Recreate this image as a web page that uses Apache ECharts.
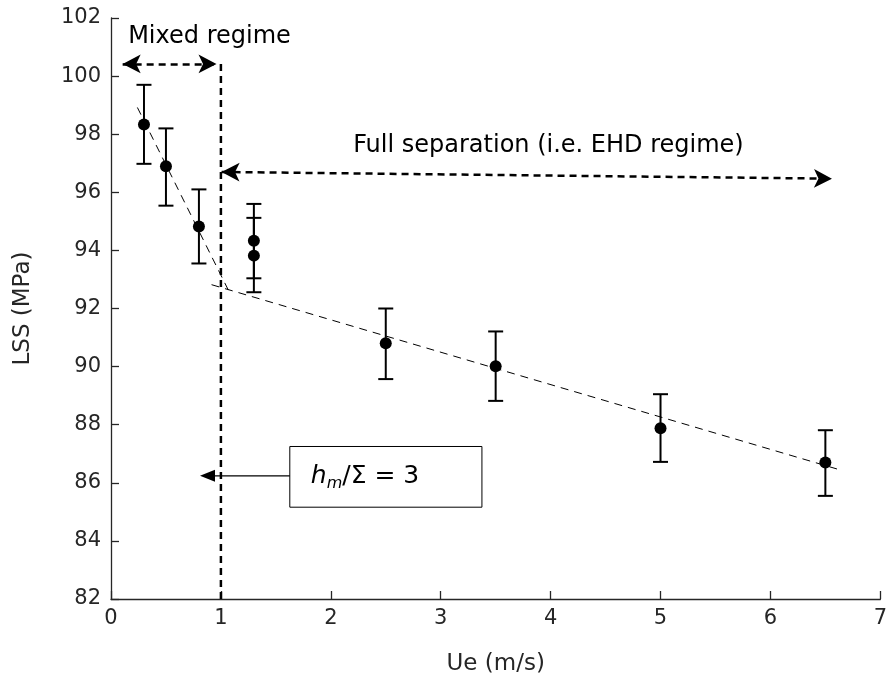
<!DOCTYPE html>
<html>
<head>
<meta charset="utf-8">
<script src="https://cdn.jsdelivr.net/npm/echarts@6/dist/echarts.min.js"></script>
<style>
  html, body { margin: 0; padding: 0; background: #fff; }
  #chart-container { width: 890px; height: 681px; }
</style>
</head>
<body>
<div id="chart-container"></div>
<script>
var dom = document.getElementById("chart-container");
var myChart = echarts.init(dom, null, { renderer: "canvas" });

// measured LSS vs entrainment speed
var speeds = [0.3, 0.5, 0.8, 1.3, 1.3, 2.5, 3.5, 5.0, 6.5];
var lss = [98.33, 96.9, 94.82, 94.33, 93.82, 90.8, 90.01, 87.88, 86.7];
var lssHigh = [99.7, 98.2, 96.1, 95.6, 95.12, 92.0, 91.21, 89.05, 87.81];
var lssLow = [96.98, 95.54, 93.55, 93.04, 92.56, 89.57, 88.82, 86.72, 85.55];

// dashed trend lines (start, end)
var fitMixed = [[0.24, 98.92], [1.08, 92.54]];
var fitEhd = [[0.915, 92.82], [6.62, 86.46]];

// transition line at hm/sigma = 3
var transition = [[1, 82], [1, 100.56]];

var xTicks = [0, 1, 2, 3, 4, 5, 6, 7];
var yTicks = [82, 84, 86, 88, 90, 92, 94, 96, 98, 100, 102];

var textColor = "#262626";
var font = "DejaVu Sans";

var points = speeds.map(function (x, i) { return [x, lss[i]]; });
var bars = speeds.map(function (x, i) { return [x, lssLow[i], lssHigh[i]]; });

var option = {
  animation: false,
  backgroundColor: "#fff",
  grid: { left: 111, right: 9, top: 18, bottom: 81 },
  xAxis: {
    type: "value",
    min: xTicks[0],
    max: xTicks[xTicks.length - 1],
    interval: 1,
    name: "Ue (m/s)",
    nameLocation: "middle",
    nameGap: 54,
    nameTextStyle: { color: textColor, fontSize: 23, fontFamily: font },
    axisLine: { show: true, lineStyle: { color: textColor, width: 1.3 } },
    axisTick: { show: true, inside: true, length: 8, lineStyle: { color: textColor, width: 1.3 } },
    axisLabel: { color: textColor, fontSize: 21, fontFamily: font, margin: 9 },
    splitLine: { show: false },
  },
  yAxis: {
    type: "value",
    min: yTicks[0],
    max: yTicks[yTicks.length - 1],
    interval: 2,
    name: "LSS (MPa)",
    nameLocation: "middle",
    nameRotate: 90,
    nameGap: 76,
    nameTextStyle: { color: textColor, fontSize: 23, fontFamily: font },
    axisLine: { show: true, lineStyle: { color: textColor, width: 1.3 } },
    axisTick: { show: true, inside: true, length: 8, lineStyle: { color: textColor, width: 1.3 } },
    axisLabel: { color: textColor, fontSize: 21, fontFamily: font, margin: 10 },
    splitLine: { show: false },
  },
  series: [
    {
      name: "fit mixed",
      type: "line",
      data: fitMixed,
      symbol: "none",
      lineStyle: { color: "#000", width: 1, type: [8, 6] },
      z: 2,
    },
    {
      name: "fit ehd",
      type: "line",
      data: fitEhd,
      symbol: "none",
      lineStyle: { color: "#000", width: 1, type: [8, 6] },
      z: 2,
    },
    {
      name: "transition",
      type: "line",
      data: transition,
      symbol: "none",
      lineStyle: { color: "#000", width: 2.5, type: [7, 5] },
      z: 3,
      markLine: {
        silent: true,
        symbol: ["arrow", "arrow"],
        symbolSize: [14, 18],
        label: { show: false },
        lineStyle: { color: "#000", width: 2.5, type: [7, 5] },
        emphasis: { disabled: true },
        data: [
          [{ coord: [0.106, 100.42] }, { coord: [0.96, 100.42] }],
          [{ coord: [1.006, 96.7] }, { coord: [6.56, 96.47] }],
        ],
      },
    },
    {
      name: "error bars",
      type: "custom",
      data: bars,
      encode: { x: 0, y: [1, 2] },
      z: 4,
      renderItem: function (params, api) {
        var top = api.coord([api.value(0), api.value(2)]);
        var bot = api.coord([api.value(0), api.value(1)]);
        var hw = 7.5;
        var st = { stroke: "#000", lineWidth: 2 };
        return {
          type: "group",
          children: [
            { type: "line", shape: { x1: top[0], y1: top[1], x2: bot[0], y2: bot[1] }, style: st },
            { type: "line", shape: { x1: top[0] - hw, y1: top[1], x2: top[0] + hw, y2: top[1] }, style: st },
            { type: "line", shape: { x1: bot[0] - hw, y1: bot[1], x2: bot[0] + hw, y2: bot[1] }, style: st },
          ],
        };
      },
    },
    {
      name: "LSS",
      type: "scatter",
      data: points,
      symbol: "circle",
      symbolSize: 12,
      itemStyle: { color: "#000", opacity: 1 },
      z: 5,
    },
    {
      name: "annotations",
      type: "custom",
      data: [[0, 82]],
      silent: true,
      z: 6,
      renderItem: function (params, api) {
        var tl = api.coord([1.627, 87.25]);
        var br = api.coord([3.375, 85.16]);
        var arrowY = api.coord([0, 86.24])[1];
        var tip = api.coord([0.81, 86.24]);
        var mixed = api.coord([0.896, 101.34]);
        var full = api.coord([3.98, 97.59]);
        return {
          type: "group",
          children: [
            {
              type: "rect",
              shape: { x: tl[0], y: tl[1], width: br[0] - tl[0], height: br[1] - tl[1] },
              style: { fill: "#fff", stroke: "#000", lineWidth: 1 },
            },
            {
              type: "line",
              shape: { x1: tl[0], y1: arrowY, x2: tip[0] + 12, y2: arrowY },
              style: { stroke: "#000", lineWidth: 1.3 },
            },
            {
              type: "polygon",
              shape: { points: [[tip[0], arrowY], [tip[0] + 15, arrowY - 6], [tip[0] + 15, arrowY + 6]] },
              style: { fill: "#000" },
            },
            {
              type: "text",
              x: tl[0] + 21,
              y: (tl[1] + br[1]) / 2,
              style: {
                text: "{i|h}{s|m}{n|/Σ = 3}",
                verticalAlign: "middle",
                fill: "#000",
                rich: {
                  i: { fontStyle: "italic", fontSize: 25, fontFamily: font, fill: "#000", verticalAlign: "middle" },
                  s: { fontStyle: "italic", fontSize: 16, fontFamily: font, fill: "#000", verticalAlign: "bottom", lineHeight: 30 },
                  n: { fontSize: 25, fontFamily: font, fill: "#000", verticalAlign: "middle" },
                },
              },
            },
            {
              type: "text",
              x: mixed[0],
              y: mixed[1],
              style: { text: "Mixed regime", fontSize: 24, fontFamily: font, fill: "#000", align: "center", verticalAlign: "middle" },
            },
            {
              type: "text",
              x: full[0],
              y: full[1],
              style: { text: "Full separation (i.e. EHD regime)", fontSize: 24, fontFamily: font, fill: "#000", align: "center", verticalAlign: "middle" },
            },
          ],
        };
      },
    },
  ],
};

myChart.setOption(option);

window.addEventListener("resize", function () {
  myChart.resize();
});
</script>
</body>
</html>
